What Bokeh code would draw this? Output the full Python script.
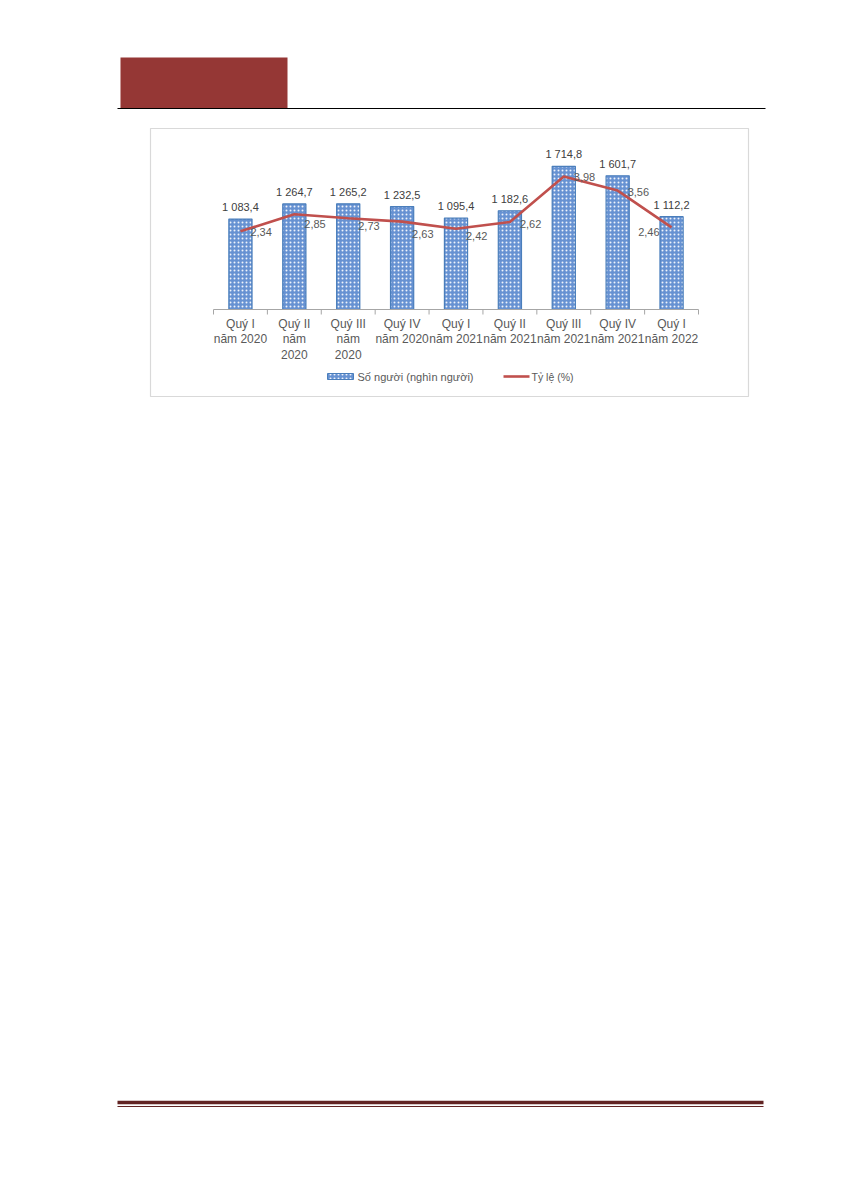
from bokeh.plotting import figure
from bokeh.models import Range1d, FactorRange, ColumnDataSource
from bokeh.core.properties import value
from bokeh.embed import file_html
from bokeh.resources import INLINE

# ---------------- data ----------------
categories = [
    "Quý I\nnăm 2020", "Quý II\nnăm\n2020", "Quý III\nnăm\n2020", "Quý IV\nnăm 2020",
    "Quý I\nnăm 2021", "Quý II\nnăm 2021", "Quý III\nnăm 2021", "Quý IV\nnăm 2021",
    "Quý I\nnăm 2022",
]
so_nguoi = [1083.4, 1264.7, 1265.2, 1232.5, 1095.4, 1182.6, 1714.8, 1601.7, 1112.2]
ty_le = [2.34, 2.85, 2.73, 2.63, 2.42, 2.62, 3.98, 3.56, 2.46]
legend_labels = ["Số người (nghìn người)", "Tỷ lệ (%)"]

# ---------------- layout (page pixels) ----------------
W, H = 825, 1175
OFF = 0                              # canvas origin in page px
FRAME_L, FRAME_R = 114, 797          # frame in page px
AXIS_L, AXIS_R = 213, 698            # category axis extents
BASE_Y = 309                         # baseline page y
K_CNT = 0.0835                       # px per thousand persons
K_PCT = 33.4                         # px per percent
TOP_Y, BOT_Y = OFF, OFF + H

FONT = value("Liberation Sans")
n = len(categories)
unit = (AXIS_R - AXIS_L) / n
pad = (AXIS_L - FRAME_L) / unit

BAR_STYLE = dict(fill_color="#6792d2", line_color="#4a7ebb", hatch_pattern="dot",
                 hatch_color="#eef3fb", hatch_scale=4, hatch_weight=2.8)


def sx(px):
    """page x (pixels) -> synthetic coordinate on the categorical range"""
    return (px - AXIS_L) / unit


p = figure(
    width=W, height=H, output_backend="svg", toolbar_location=None,
    x_range=FactorRange(factors=categories, range_padding=2 * pad / n, range_padding_units="percent"),
    y_range=Range1d(start=-(BOT_Y - BASE_Y) / K_CNT, end=(BASE_Y - TOP_Y) / K_CNT),
    x_axis_location=None, y_axis_location=None,
    min_border_left=FRAME_L - OFF, min_border_right=W - (FRAME_R - OFF),
    min_border_top=0, min_border_bottom=0,
)
p.extra_y_ranges = {
    "py": Range1d(start=BOT_Y, end=TOP_Y),
    "pct": Range1d(start=-(BOT_Y - BASE_Y) / K_PCT, end=(BASE_Y - TOP_Y) / K_PCT),
}
p.xgrid.visible = False
p.ygrid.visible = False
p.outline_line_color = None
p.background_fill_color = "white"
p.border_fill_color = "white"

# ---------------- page decorations ----------------
p.quad(left=[sx(120)], right=[sx(287)], top=[57], bottom=[108], fill_color="#953735",
       line_color=None, y_range_name="py")
p.segment(x0=[sx(117)], x1=[sx(765)], y0=[108], y1=[108], line_color="black", line_width=1.2,
          y_range_name="py")
p.segment(x0=[sx(117)], x1=[sx(763)], y0=[1102], y1=[1102], line_color="#622423", line_width=3.5,
          y_range_name="py")
p.segment(x0=[sx(117)], x1=[sx(763)], y0=[1106], y1=[1106], line_color="#622423", line_width=1.2,
          y_range_name="py")

# chart box
p.quad(left=[sx(150)], right=[sx(748)], top=[128], bottom=[396], fill_color="white",
       line_color="#d9d9d9", line_width=1.2, y_range_name="py")

# ---------------- chart ----------------
src = ColumnDataSource(dict(
    cat=categories, cnt=so_nguoi, rate=ty_le,
    cnt_lbl=[f"{v:,.1f}".replace(",", " ").replace(".", ",") for v in so_nguoi],
    rate_lbl=[f"{v:.2f}".replace(".", ",") for v in ty_le],
))

p.vbar(x="cat", top="cnt", bottom=0, width=0.43, source=src, line_width=1.2, **BAR_STYLE)

# category axis line and ticks
p.segment(x0=[0], x1=[n], y0=[BASE_Y], y1=[BASE_Y], line_color="#a6a6a6",
          line_width=1, y_range_name="py")
ticks = list(range(n + 1))
p.segment(x0=ticks, x1=ticks, y0=[BASE_Y] * len(ticks), y1=[BASE_Y + 5] * len(ticks),
          line_color="#a6a6a6", line_width=1, y_range_name="py")

csrc = ColumnDataSource(dict(cat=categories, ly=[316] * n))
p.text(x="cat", y="ly", text="cat", source=csrc,
       y_range_name="py", text_font=FONT, text_font_size="12px", text_color="#595959",
       text_align="center", text_baseline="top", text_line_height=1.12)

p.line(x="cat", y="rate", source=src, y_range_name="pct", line_color="#c0504d", line_width=2.6)

p.text(x="cat", y="cnt", text="cnt_lbl", source=src, text_font=FONT, text_font_size="11px",
       text_color="#404040", text_align="center", text_baseline="middle", y_offset=-12)

rate_dy = [1, 10, 8, 12, 7, 2, 0, 1]
rsrc = ColumnDataSource(dict(cat=categories[:-1], rate=ty_le[:-1],
                             lbl=src.data["rate_lbl"][:-1], dy=rate_dy))
p.text(x="cat", y="rate", text="lbl", source=rsrc, y_range_name="pct", text_font=FONT,
       text_font_size="11px", text_color="#595959", text_align="left",
       text_baseline="middle", x_offset=10, y_offset="dy")
p.text(x=[categories[-1]], y=[ty_le[-1]], text=[src.data["rate_lbl"][-1]], y_range_name="pct",
       text_font=FONT, text_font_size="11px", text_color="#595959", text_align="right",
       text_baseline="middle", x_offset=-12, y_offset=5)

# legend
p.quad(left=[sx(327)], right=[sx(353)], top=[373], bottom=[379], line_width=1,
       y_range_name="py", **BAR_STYLE)
p.text(x=[sx(357)], y=[376], text=[legend_labels[0]], y_range_name="py",
       text_font=FONT, text_font_size="11px", text_color="#595959", text_baseline="middle")
p.segment(x0=[sx(503)], x1=[sx(529)], y0=[376], y1=[376], line_color="#c0504d", line_width=2.6,
          y_range_name="py")
p.text(x=[sx(531)], y=[376], text=[legend_labels[1]], y_range_name="py",
       text_font=FONT, text_font_size="10.5px", text_color="#595959", text_baseline="middle")

open("out.html", "w").write(file_html(p, INLINE))
